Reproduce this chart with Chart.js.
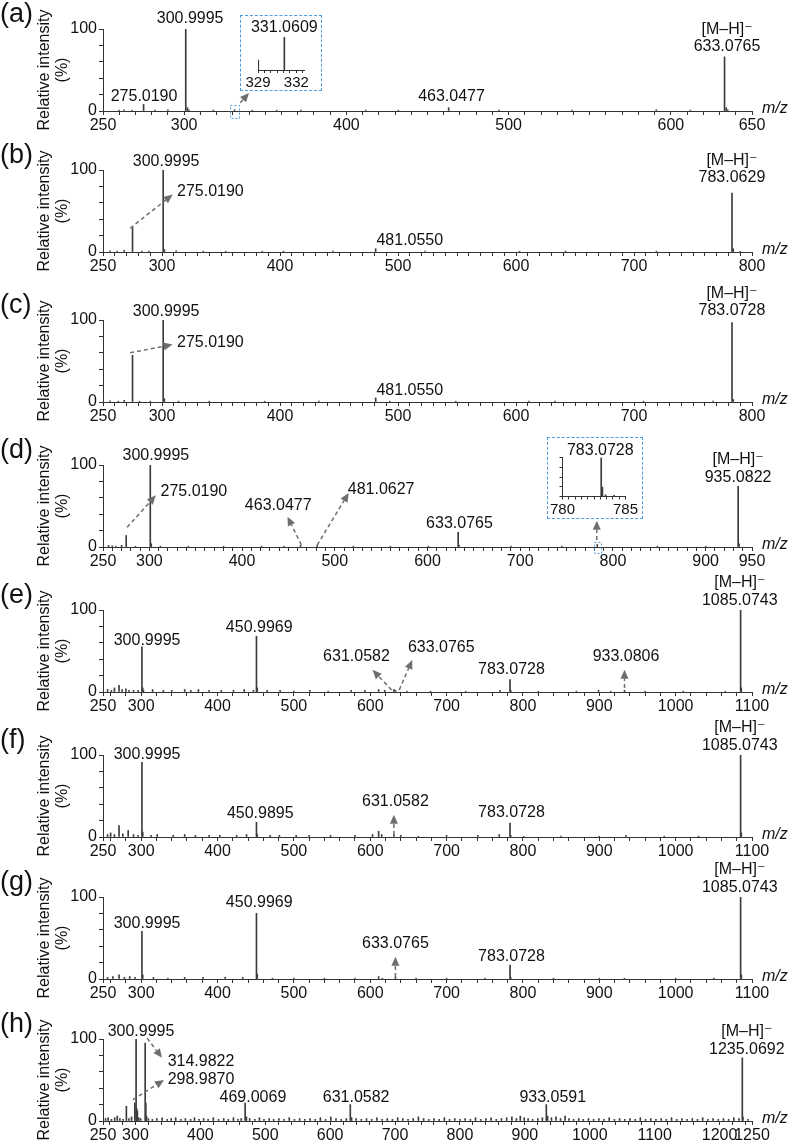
<!DOCTYPE html>
<html>
<head>
<meta charset="utf-8">
<script src="https://cdn.jsdelivr.net/npm/chart.js@4.4.1/dist/chart.umd.min.js"></script>
<style>
body { margin: 0; background: #fff; }
#wrap { position: relative; width: 789px; height: 1142px; overflow: hidden; }
#wrap > canvas { position: absolute; left: 0; }
.inset { position: absolute; border: 1.5px dashed #4b9be3; box-sizing: border-box; background: #fff; }
.inset canvas { position: absolute; left: 0; top: 0; }
</style>
</head>
<body>
<div id="wrap"></div>
<script>
// MS/MS spectra (a)-(h), relative intensity vs m/z

const FONT = "'Liberation Sans', Arial, 'DejaVu Sans', sans-serif";
const BLUE = '#4b9be3';

// peaks: [m/z, relative intensity %]
const peaksA = [[260,1],[263,1.5],[268,1],[275.019,8],[282,1],[290,1.5],[300.9995,100],[302,4],[303,1.5],[318,1],
  [331.0609,1.5],[342,1],[357,1],[372,1],[412,1],[432,1],[463.0477,4],[494,1],[539,1],[591,1.5],[612,1],
  [633.0765,66],[634.08,4],[635,1.5]];
const peaksB = [[256,1.5],[262,1],[268,2],[275.019,30],[283,1],[289,1],[300.9995,100],[302,3],[312,1.5],[335,1],
  [354,1],[385,1],[403,1],[445,1],[481.055,4],[523,1],[603,1],[642,1],[719,1],[783.0629,72],[784.07,4],[790,1]];
const peaksC = [[256,1.5],[263,1],[268,2],[275.019,57],[281,1],[290,1],[300.9995,100],[302,4],[314,1],[340,1],
  [387,1],[433,1],[481.055,5],[493,1],[549,1],[611,1],[633,1],[708,1],[767,1],[783.0728,97],[784.08,3]];
const peaksD = [[256,2],[260,1.5],[264,1],[270,2],[275.019,14],[285,1],[300.9995,100],[302,4],[312,1],[342,1],
  [380,1],[421,1],[445,1],[463.0477,2],[481.0627,2],[520,1],[560,1],[601,1],[633.0765,18],[634,2],[690,1],
  [745,1],[783.0728,3],[848,1],[900,1],[935.0822,74],[936.08,4]];
const peaksE = [[256,3],[261,2],[265,5],[271,8],[275,3],[280,4],[284,2],[290,2],[296,2],[300.9995,55],[302,5],
  [303,2],[315,3],[329,2],[340,2],[357,3],[365,2],[375,3],[389,2],[405,2],[421,2],[435,3],[447,2],
  [450.9969,68],[452,5],[465,2],[482,2],[500,1],[521,2],[545,1],[575,2],[593,2],[611,3],[619,2],
  [631.0582,3],[633.0765,2],[648,1],[679,1],[725,1],[770,2],[783.0728,15],[784,2],[820,1],[870,1],[899,2],
  [915,1],[933.0806,2],[960,1],[1010,1],[1065,1],[1085.0743,100],[1086,5]];
const peaksF = [[256,3],[260,5],[265,3],[271,14],[276,4],[283,8],[290,3],[296,2],[300.9995,91],[302,6],[313,2],
  [321,3],[342,2],[357,3],[371,2],[389,2],[403,2],[425,2],[438,3],[450.9895,18],[452,3],[469,2],[481,2],
  [503,2],[520,2],[548,2],[580,2],[603,3],[611,7],[615,3],[631.0582,3],[640,2],[663,1],[700,2],[741,2],
  [769,3],[783.0728,17],[784,2],[801,1],[850,1],[900,1],[935,2],[985,1],[1030,1],[1085.0743,100],[1086,5]];
const peaksG = [[256,2],[263,3],[271,5],[278,2],[285,3],[292,2],[300.9995,58],[302,5],[316,2],[335,1],[357,2],
  [381,2],[410,2],[433,2],[450.9969,80],[452,6],[472,1],[500,1],[540,1],[580,1],[611,3],[616,1],
  [633.0765,2],[660,1],[700,1],[750,1],[783.0728,17],[784,2],[840,1],[900,1],[933,1],[1000,1],[1050,1],
  [1085.0743,100],[1086,5]];
const peaksH = [[254,3],[258,4],[263,2],[268,4],[272,6],[276,3],[281,2],[286,18],[290,3],[294,5],[298.987,22],
  [300.9995,100],[302,15],[303,12],[305,4],[308,3],[314.9822,95],[316,22],[317,6],[320,3],[326,2],[333,3],
  [341,4],[349,2],[355,3],[362,4],[370,2],[377,3],[385,2],[391,4],[398,2],[405,3],[412,2],[420,4],[428,2],
  [436,3],[443,2],[451,4],[458,2],[463,3],[469.0069,22],[471,5],[476,3],[484,2],[491,4],[498,2],[506,3],
  [513,2],[521,3],[529,2],[537,4],[545,2],[553,3],[561,2],[569,3],[577,2],[585,4],[593,2],[601,5],[609,3],
  [617,2],[625,3],[631.0582,20],[633,4],[640,3],[648,2],[656,3],[664,2],[672,4],[680,2],[688,3],[696,2],
  [704,4],[712,3],[720,2],[728,3],[736,5],[744,3],[752,2],[760,3],[768,2],[776,4],[784,2],[792,3],[800,2],
  [808,3],[816,2],[824,4],[832,2],[840,3],[848,4],[856,2],[864,3],[872,4],[880,5],[887,3],[893,6],[899,4],
  [905,3],[912,2],[920,3],[927,4],[933.0591,20],[935,6],[941,4],[948,5],[955,3],[962,6],[968,3],[975,2],
  [983,3],[990,2],[998,3],[1006,2],[1014,3],[1022,2],[1030,4],[1038,2],[1046,3],[1054,2],[1062,3],[1070,2],
  [1078,4],[1086,2],[1094,3],[1102,2],[1110,3],[1118,2],[1126,4],[1134,2],[1142,3],[1150,2],[1158,3],
  [1166,2],[1174,4],[1182,2],[1190,3],[1198,2],[1206,3],[1214,2],[1222,4],[1230,3],[1235.0692,77],
  [1236,5],[1244,2]];

// inset zooms
const insetPeaksA = [[329.02,30],[331.0609,100]];
const insetPeaksD = [[783.0728,100],[783.17,24],[783.42,4],[784.1,3]];

// x tick labels
const ticksA = [250,300,400,500,600,650];
const ticksBC = [250,300,400,500,600,700,800];
const ticksD = [250,300,400,500,600,700,800,900,950];
const ticksEFG = [250,300,400,500,600,700,800,900,1000,1100];
const ticksH = [250,300,400,500,600,700,800,900,1000,1100,1200,1250];

// annotations: [text, m/z, intensity]
const MH = '[M–H]⁻';
const notesA = [['300.9995',303.7,113],['275.0190',275.3,17],['463.0477',464.8,17],[MH,634.6,99],['633.0765',634.6,78]];
const notesB = [['300.9995',303.5,110],['275.0190',341,74],['481.0550',510,14],[MH,783,112],['783.0629',783,91]];
const notesC = [['300.9995',303.5,110],['275.0190',341,72],['481.0550',510,14],[MH,783,132],['783.0728',783,112]];
const notesD = [['300.9995',307,112],['275.0190',348,68],['463.0477',439,50],['481.0627',550,70],
  ['633.0765',634.5,29],[MH,935,106],['935.0822',935,85]];
const notesE = [['300.9995',307.7,63],['450.9969',454.6,78],['631.0582',582,43],['633.0765',693,54],
  ['783.0728',785,27],['933.0806',935,43],[MH,1084,133],['1085.0743',1084,111]];
const notesF = [['300.9995',307.7,100],['450.9895',456,29],['631.0582',633,43],['783.0728',785,30],
  [MH,1084,133],['1085.0743',1084,111]];
const notesG = [['300.9995',307.7,68],['450.9969',454.6,93],['633.0765',633,43],['783.0728',785,27],
  [MH,1084,133],['1085.0743',1084,111]];
const notesH = [['300.9995',308.6,109],['314.9822',401,72],['298.9870',401,50],['469.0069',481,29],
  ['631.0582',640,29],['933.0591',943,29],[MH,1242,109],['1235.0692',1242,87]];

// arrows: [from m/z, from int, to m/z, to int]
const arrowsA = [[334.6,10,340,22]];
const arrowsB = [[273,29,309,70]];
const arrowsC = [[273,60,309,70]];
const arrowsD = [[276,24,307,63],[464,2.4,449,37],[481,2.4,515,66],[782.6,8.5,782.6,32]];
const arrowsE = [[628,2.5,603,27],[638,2.5,655,39],[933,5,933,27]];
const arrowsF = [[631,2.5,631,27]];
const arrowsG = [[633,2.5,633,27]];
const arrowsH = [[318,101,341,77],[296,26,344,50]];

const panels = [
  {tag:'(a)', top:29,   max:650,  minor:10, labels:ticksA,   peaks:peaksA, notes:notesA, arrows:arrowsA, box:[331,9,13]},
  {tag:'(b)', top:170,  max:800,  minor:10, labels:ticksBC,  peaks:peaksB, notes:notesB, arrows:arrowsB},
  {tag:'(c)', top:320,  max:800,  minor:10, labels:ticksBC,  peaks:peaksC, notes:notesC, arrows:arrowsC},
  {tag:'(d)', top:465,  max:950,  minor:10, labels:ticksD,   peaks:peaksD, notes:notesD, arrows:arrowsD, box:[783,7,11]},
  {tag:'(e)', top:610,  max:1100, minor:20, labels:ticksEFG, peaks:peaksE, notes:notesE, arrows:arrowsE},
  {tag:'(f)', top:755,  max:1100, minor:20, labels:ticksEFG, peaks:peaksF, notes:notesF, arrows:arrowsF},
  {tag:'(g)', top:897,  max:1100, minor:20, labels:ticksEFG, peaks:peaksG, notes:notesG, arrows:arrowsG},
  {tag:'(h)', top:1039, max:1250, minor:20, labels:ticksH,   peaks:peaksH, notes:notesH, arrows:arrowsH}
];

function drawArrow(ctx, x1, y1, x2, y2) {
  const ang = Math.atan2(y2 - y1, x2 - x1), L = 9, W = 4;
  const bx = x2 - L * Math.cos(ang), by = y2 - L * Math.sin(ang);
  ctx.strokeStyle = '#6e6e6e';
  ctx.fillStyle = '#6e6e6e';
  ctx.lineWidth = 1.5;
  ctx.setLineDash([4, 3]);
  ctx.beginPath(); ctx.moveTo(x1, y1); ctx.lineTo(bx, by); ctx.stroke();
  ctx.setLineDash([]);
  ctx.beginPath();
  ctx.moveTo(x2, y2);
  ctx.lineTo(bx - W * Math.sin(ang), by + W * Math.cos(ang));
  ctx.lineTo(bx + W * Math.sin(ang), by - W * Math.cos(ang));
  ctx.closePath(); ctx.fill();
}

// labels, arrows, panel tag, m/z
const annot = {
  id: 'annot',
  afterDraw(chart, args, o) {
    const ctx = chart.ctx, xs = chart.scales.x, ys = chart.scales.y, ca = chart.chartArea;
    const px = m => xs.getPixelForValue(m), py = v => ys.getPixelForValue(v);
    ctx.save();
    (o.arrows || []).forEach(a => drawArrow(ctx, px(a[0]), py(a[1]), px(a[2]), py(a[3])));
    if (o.box) {
      ctx.setLineDash([2, 2]);
      ctx.strokeStyle = BLUE;
      ctx.lineWidth = 1;
      ctx.strokeRect(Math.round(px(o.box[0]) - o.box[1] / 2) + 0.5, Math.round(ca.bottom - o.box[2] / 2) + 0.5, o.box[1], o.box[2]);
      ctx.setLineDash([]);
    }
    ctx.fillStyle = '#111';
    ctx.textAlign = 'center';
    ctx.textBaseline = 'middle';
    ctx.font = (o.size || 16) + 'px ' + FONT;
    (o.notes || []).forEach(n => ctx.fillText(n[0], px(n[1]), py(n[2])));
    if (o.tag) {
      ctx.font = '27px ' + FONT;
      ctx.textAlign = 'left';
      ctx.fillText(o.tag, 0, ca.top - 14);
    }
    if (o.mz) {
      ctx.font = 'italic 16px ' + FONT;
      ctx.textAlign = 'left';
      ctx.fillText('m/z', ca.right + 10, ca.bottom - 2);
    }
    ctx.restore();
  }
};

function tickList(min, max, step, labels) {
  const s = new Set(labels);
  for (let v = Math.ceil(min / step) * step; v <= max + 1e-6; v += step) s.add(Math.round(v * 100) / 100);
  return [...s].filter(v => v >= min && v <= max).sort((a, b) => a - b);
}

const wrap = document.getElementById('wrap');

panels.forEach(p => {
  const cv = document.createElement('canvas');
  cv.width = 789; cv.height = 154;
  cv.style.top = (p.top - 45) + 'px';
  wrap.appendChild(cv);
  const xt = tickList(250, p.max, p.minor, p.labels);
  new Chart(cv, {
    type: 'bar',
    data: {
      datasets: [{
        data: p.peaks.map(([x, y]) => ({x, y})),
        backgroundColor: '#3c3c3c',
        borderWidth: 0,
        barThickness: 1
      }]
    },
    options: {
      responsive: false,
      animation: false,
      events: [],
      layout: {padding: {left: 36, right: 37, top: 45, bottom: 3}},
      plugins: {
        legend: {display: false},
        tooltip: {enabled: false},
        annot: {notes: p.notes, arrows: p.arrows, box: p.box, tag: p.tag, mz: true}
      },
      scales: {
        x: {
          type: 'linear', min: 250, max: p.max, offset: false,
          grid: {drawOnChartArea: false, tickLength: 4, color: '#333', offset: false},
          border: {color: '#333', width: 1},
          afterBuildTicks: s => { s.ticks = xt.map(v => ({value: v})); },
          afterFit: s => { s.height = 24; },
          ticks: {
            autoSkip: false, maxRotation: 0, padding: 1, color: '#111',
            font: {family: FONT, size: 16},
            callback: v => p.labels.includes(v) ? String(v) : ''
          }
        },
        y: {
          min: 0, max: 100,
          grid: {drawOnChartArea: false, tickLength: 4, color: '#333'},
          border: {color: '#333', width: 1},
          afterBuildTicks: s => { s.ticks = [0, 20, 40, 60, 80, 100].map(v => ({value: v})); },
          afterFit: s => { s.width = 67; },
          ticks: {
            autoSkip: false, padding: 2, color: '#111', font: {family: FONT, size: 16},
            callback: v => (v === 0 || v === 100) ? String(v) : ''
          },
          title: {
            display: true, text: ['Relative intensity', '(%)'], color: '#111', padding: 0,
            font: {family: FONT, size: 16, lineHeight: 1.1}
          }
        }
      }
    },
    plugins: [annot]
  });
});

// zoomed insets
const insets = [
  {left: 239.5, top: 14.5, w: 82, h: 76, min: 329, max: 332.6, step: 0.5, labels: [329, 332],
   peaks: insetPeaksA, note: ['331.0609', 331.0609, 127], pad: {left: 17, right: 16, top: 21, bottom: 0}, xh: 19, yaxis: false},
  {left: 547, top: 437, w: 96, h: 82, min: 780, max: 785, step: 0.5, labels: [780, 785],
   peaks: insetPeaksD, note: ['783.0728', 783.0, 118], pad: {left: 0, right: 15.5, top: 19.5, bottom: 0}, xh: 20.5, yaxis: true}
];

insets.forEach(s => {
  const div = document.createElement('div');
  div.className = 'inset';
  div.style.left = s.left + 'px';
  div.style.top = s.top + 'px';
  div.style.width = s.w + 'px';
  div.style.height = s.h + 'px';
  const cv = document.createElement('canvas');
  cv.width = s.w - 3; cv.height = s.h - 3;
  div.appendChild(cv);
  wrap.appendChild(div);
  const xt = tickList(s.min, s.max, s.step, s.labels);
  const yOpts = {
    display: s.yaxis, min: 0, max: 100,
    grid: {drawOnChartArea: false, tickLength: 3, color: '#333'},
    border: {color: '#333'},
    afterBuildTicks: sc => { sc.ticks = [0, 25, 50, 75, 100].map(v => ({value: v})); },
    ticks: {autoSkip: false, callback: () => ''}
  };
  if (s.yaxis) yOpts.afterFit = sc => { sc.width = 14.5; };
  new Chart(cv, {
    type: 'bar',
    data: {datasets: [{data: s.peaks.map(([x, y]) => ({x, y})), backgroundColor: '#3c3c3c', borderWidth: 0, barThickness: 1}]},
    options: {
      responsive: false, animation: false, events: [],
      layout: {padding: s.pad},
      plugins: {legend: {display: false}, tooltip: {enabled: false}, annot: {notes: [s.note]}},
      scales: {
        x: {
          type: 'linear', min: s.min, max: s.max, offset: false,
          grid: {drawOnChartArea: false, tickLength: 3, color: '#333', offset: false},
          border: {color: '#333'},
          afterBuildTicks: sc => { sc.ticks = xt.map(v => ({value: v})); },
          afterFit: sc => { sc.height = s.xh; },
          ticks: {autoSkip: false, maxRotation: 0, padding: 1, color: '#111', font: {family: FONT, size: 15},
                  callback: v => s.labels.includes(v) ? String(v) : ''}
        },
        y: yOpts
      }
    },
    plugins: [annot]
  });
});
</script>
</body>
</html>
